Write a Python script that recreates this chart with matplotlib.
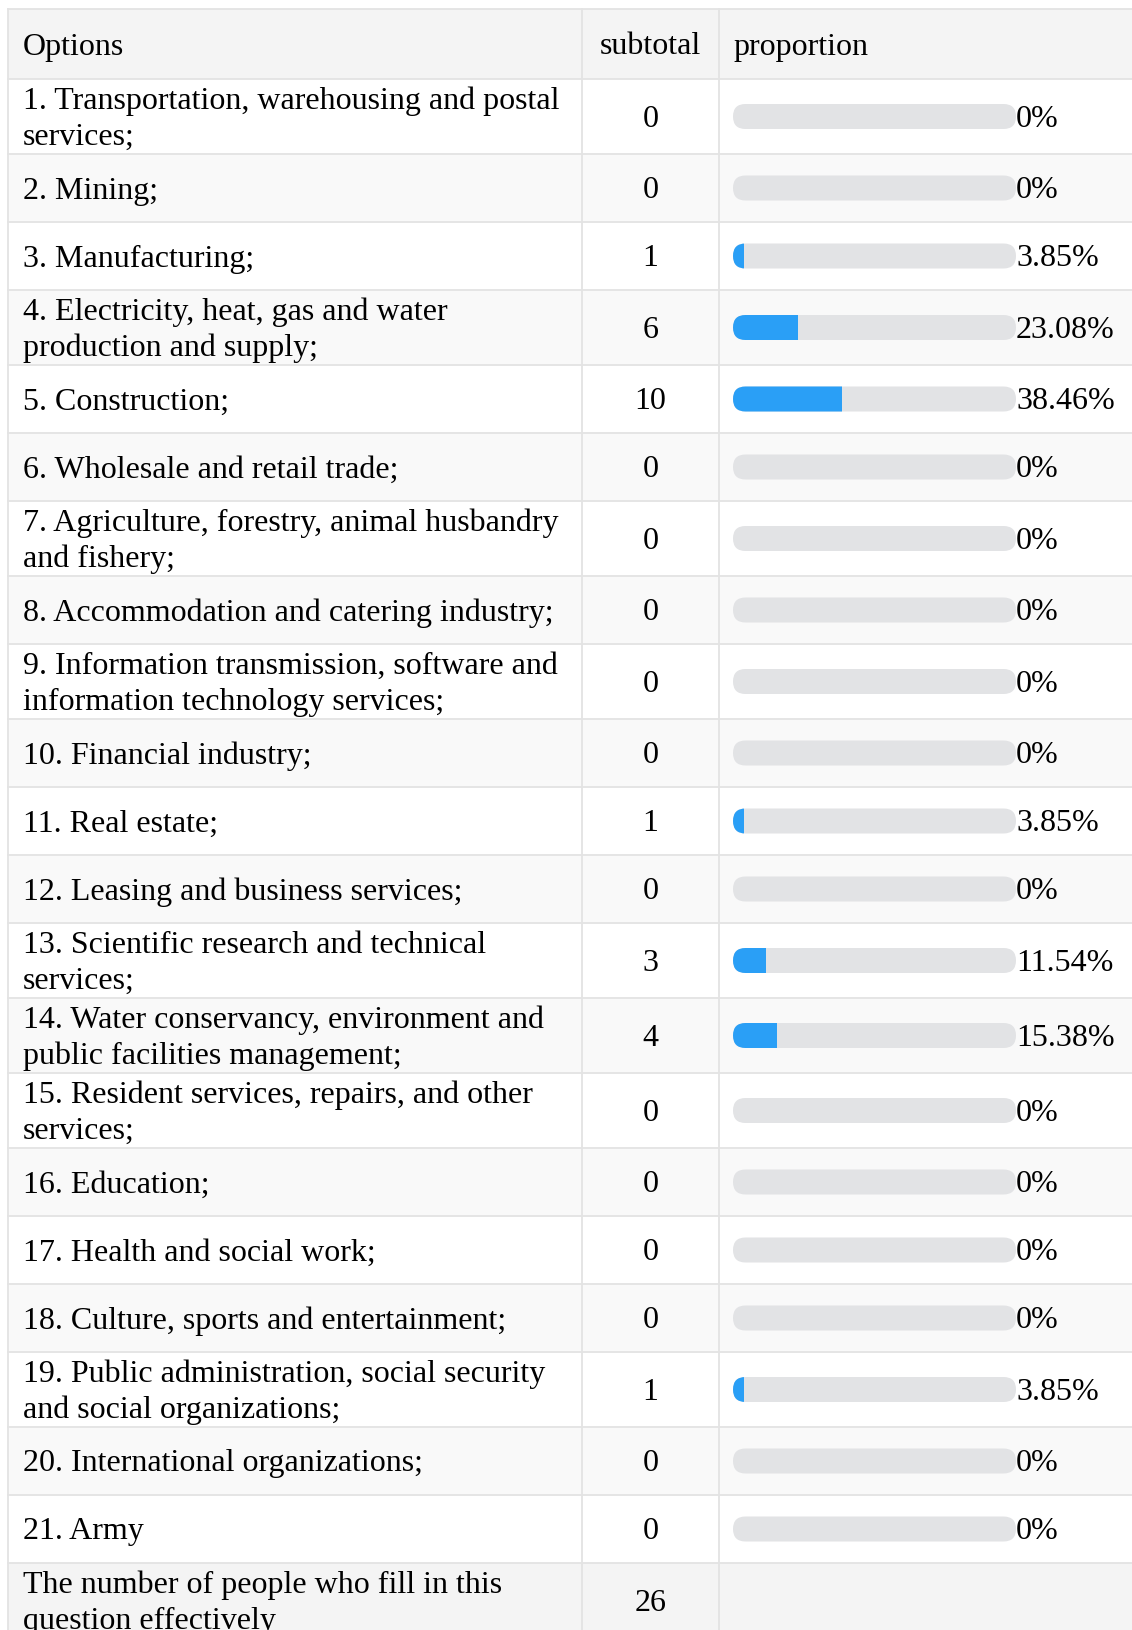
import matplotlib.pyplot as plt
from matplotlib.patches import Rectangle, FancyBboxPatch

options = [
    "1. Transportation, warehousing and postal\nservices;",
    "2. Mining;",
    "3. Manufacturing;",
    "4. Electricity, heat, gas and water\nproduction and supply;",
    "5. Construction;",
    "6. Wholesale and retail trade;",
    "7. Agriculture, forestry, animal husbandry\nand fishery;",
    "8. Accommodation and catering industry;",
    "9. Information transmission, software and\ninformation technology services;",
    "10. Financial industry;",
    "11. Real estate;",
    "12. Leasing and business services;",
    "13. Scientific research and technical\nservices;",
    "14. Water conservancy, environment and\npublic facilities management;",
    "15. Resident services, repairs, and other\nservices;",
    "16. Education;",
    "17. Health and social work;",
    "18. Culture, sports and entertainment;",
    "19. Public administration, social security\nand social organizations;",
    "20. International organizations;",
    "21. Army",
]
subtotals = [0, 0, 1, 6, 10, 0, 0, 0, 0, 0, 1, 0, 3, 4, 0, 0, 0, 0, 1, 0, 0]
percents = [0, 0, 3.85, 23.08, 38.46, 0, 0, 0, 0, 0, 3.85, 0, 11.54, 15.38,
            0, 0, 0, 0, 3.85, 0, 0]
headers = ["Options", "subtotal", "proportion"]
total_label = "The number of people who fill in this\nquestion effectively"
total_value = 26

W, H = 1132, 1631
fig = plt.figure(figsize=(W / 100, H / 100), dpi=100)
ax = fig.add_axes([0, 0, 1, 1])
ax.set_xlim(0, W)
ax.set_ylim(H, 0)
ax.axis("off")

FONT = "Liberation Serif"
FS = 23
GRID = "#e3e3e3"
x0, x1, x2, x3 = 8, 582, 719, W + 5
top = 10
bar_x, bar_len, bar_h = 733, 283, 25


def fmt(p):
    return "0%" if p == 0 else "{:.2f}%".format(p)


def row_h(label):
    return 75 if "\n" in label else 68


def text(x, y, s, ha="left"):
    ax.text(x, y + 2, s, ha=ha, va="center", fontsize=FS, family=FONT,
            color="black", linespacing=1.3)


# header
y = top
hh = 70
ax.add_patch(Rectangle((x0, y), x3 - x0, hh, color="#f4f4f4", lw=0))
text(23, y + hh / 2, headers[0])
text((x1 + x2) / 2, y + hh / 2, headers[1], ha="center")
text(bar_x, y + hh / 2, headers[2])
ax.plot([x0, x3], [y, y], color=GRID, lw=1.3)
y += hh

for i, (lab, n, p) in enumerate(zip(options, subtotals, percents)):
    h = row_h(lab)
    bg = "#ffffff" if i % 2 == 0 else "#f9f9f9"
    ax.add_patch(Rectangle((x0, y), x3 - x0, h, color=bg, lw=0))
    ax.plot([x0, x3], [y, y], color=GRID, lw=1.3)
    cy = y + h / 2
    text(23, cy, lab)
    text((x1 + x2) / 2, cy, str(n), ha="center")
    ax.add_patch(FancyBboxPatch((bar_x, cy - bar_h / 2), bar_len, bar_h,
                                boxstyle="round,pad=0,rounding_size=12.5",
                                color="#e2e3e5", lw=0))
    if p > 0:
        fill = FancyBboxPatch((bar_x, cy - bar_h / 2), bar_len, bar_h,
                              boxstyle="round,pad=0,rounding_size=12.5",
                              color="#2a9ff6", lw=0)
        ax.add_patch(fill)
        clip = Rectangle((bar_x, cy - bar_h / 2 - 2), bar_len * p / 100,
                         bar_h + 4, transform=ax.transData)
        fill.set_clip_path(clip)
    text(bar_x + bar_len, cy, fmt(p))
    y += h

# total row
h = row_h(total_label)
ax.add_patch(Rectangle((x0, y), x3 - x0, h, color="#f4f4f4", lw=0))
ax.plot([x0, x3], [y, y], color=GRID, lw=1.3)
text(23, y + h / 2, total_label)
text((x1 + x2) / 2, y + h / 2, str(total_value), ha="center")
y += h

for x in (x0, x1, x2):
    ax.plot([x, x], [top, y], color=GRID, lw=1.3)

fig.savefig("out.png", dpi=100, facecolor="white")
